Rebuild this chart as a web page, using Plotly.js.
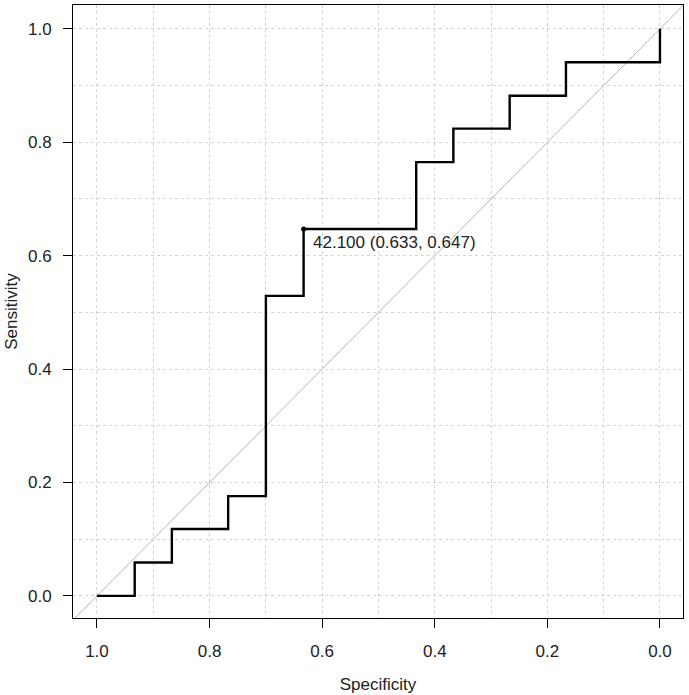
<!DOCTYPE html>
<html>
<head>
<meta charset="utf-8">
<script src="https://cdn.plot.ly/plotly-3.0.1.min.js"></script>
<style>html,body{margin:0;padding:0;background:#fff}#chart{width:689px;height:695px}</style>
</head>
<body>
<div id="chart"></div>
<script>
// ROC step path (specificity, sensitivity)
const specificity = [1.0, 0.933, 0.933, 0.867, 0.867, 0.767, 0.767, 0.7, 0.7, 0.633, 0.633, 0.433, 0.433, 0.367, 0.367, 0.267, 0.267, 0.167, 0.167, 0.0, 0.0];
const sensitivity = [0.0, 0.0, 0.059, 0.059, 0.118, 0.118, 0.176, 0.176, 0.529, 0.529, 0.647, 0.647, 0.765, 0.765, 0.824, 0.824, 0.882, 0.882, 0.941, 0.941, 1.0];
const bestThreshold = 42.100;
const bestSpec = [0.633];
const bestSens = [0.647];
const tickVals = [1.0, 0.8, 0.6, 0.4, 0.2, 0.0];

const font = 'Liberation Sans, Arial, sans-serif';
const fsize = 17;
const traces = [
  {x: specificity, y: sensitivity, type: 'scatter', mode: 'lines',
   line: {color: '#000', width: 2.4, shape: 'linear'}, hoverinfo: 'skip'},
  {x: bestSpec, y: bestSens, type: 'scatter', mode: 'markers',
   marker: {color: '#000', size: 5}, hoverinfo: 'skip'}
];
const axisCommon = {
  showline: true, mirror: true, linecolor: '#000', linewidth: 1,
  ticks: 'outside', ticklen: 9, tickcolor: '#000', tickwidth: 1,
  tickvals: tickVals, tickformat: '.1f',
  tickfont: {family: font, size: fsize, color: '#222'},
  showgrid: true, gridcolor: '#d4d4d4', griddash: 'dot', gridwidth: 1,
  minor: {dtick: 0.1, tick0: 0, showgrid: true, gridcolor: '#d4d4d4', griddash: 'dot', gridwidth: 1, ticks: ''},
  zeroline: false
};
const layout = {
  width: 689, height: 695,
  margin: {l: 73, r: 6, t: 5, b: 77},
  paper_bgcolor: '#fff', plot_bgcolor: '#fff',
  showlegend: false,
  xaxis: Object.assign({}, axisCommon, {
    range: [1.0426, -0.0409],
    title: {text: 'Specificity', font: {family: font, size: fsize, color: '#222'}, standoff: 17},
    ticklabelstandoff: 9
  }),
  yaxis: Object.assign({}, axisCommon, {
    range: [-0.039, 1.042],
    title: {text: 'Sensitivity', font: {family: font, size: fsize, color: '#222'}, standoff: 6},
    ticklabelstandoff: 8
  }),
  shapes: [
    {type: 'line', xref: 'x', yref: 'y', x0: 1.0426, y0: -0.0426, x1: -0.0409, y1: 1.0409,
     line: {color: '#b5b5b5', width: 1}, layer: 'below'}
  ],
  annotations: [
    {x: bestSpec[0], y: bestSens[0], xref: 'x', yref: 'y',
     text: bestThreshold.toFixed(3) + ' (' + bestSpec[0].toFixed(3) + ', ' + bestSens[0].toFixed(3) + ')',
     showarrow: false, xanchor: 'left', yanchor: 'middle', xshift: 7, yshift: -14,
     font: {family: font, size: fsize, color: '#222'}}
  ]
};
Plotly.newPlot('chart', traces, layout, {displayModeBar: false, staticPlot: true});
</script>
</body>
</html>
